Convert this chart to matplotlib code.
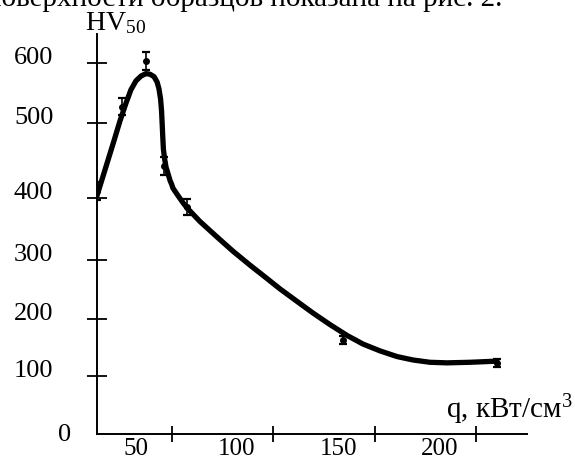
import numpy as np
import matplotlib
matplotlib.use("Agg")
import matplotlib.pyplot as plt
from matplotlib.transforms import ScaledTranslation

# ---- data ----
q_points = [13.3, 25.6, 37.4, 46.3, 57.6, 134.5, 210.3]
hv_points = [409, 527, 603, 443, 385, 163, 123]
hv_err = [12, 14, 15, 12, 13, 7, 7]

curve_q = [13.3, 17.2, 21.2, 24.6, 27.6, 30.0, 32.5, 35.0, 37.4, 39.4,
           41.4, 42.9, 43.8, 44.6, 45.1, 45.4, 45.7, 46.0, 46.6, 47.3,
           48.3, 49.3, 50.1, 50.7, 53.2, 55.7, 57.6, 64.0, 72.4, 80.3,
           88.7, 96.1, 103.4, 113.3, 119.7, 128.1, 136.5, 144.3, 152.7, 161.1,
           169.0, 177.3, 185.7, 197.0, 210.3]
curve_hv = [403, 437, 472, 503, 533, 555, 570, 578, 582, 581,
            577, 568, 557, 540, 520, 499, 481, 465, 452, 441,
            432, 423, 418, 413, 403, 392, 384, 362, 337, 314,
            291, 271, 251, 226, 210, 190, 171, 156, 144, 134,
            128, 124, 123, 124, 126]

x_ticks = [50, 100, 150, 200]
x_ticklabels = ["50", "100", "150", "200"]
y_ticks = [100, 200, 300, 400, 500, 600]
y_ticklabels = ["100", "200", "300", "400", "500", "600"]

# hand-drawn (slightly uneven) vertical axis calibration
axis_vals = [0, 100, 200, 300, 400, 500, 600, 700]
axis_pos = [0, 58, 115, 174, 236, 311, 371, 431]

plt.rcParams["font.family"] = ["Liberation Serif", "DejaVu Serif"]
plt.rcParams["mathtext.fontset"] = "custom"
plt.rcParams["mathtext.rm"] = "Liberation Serif"
plt.rcParams["mathtext.it"] = "Liberation Serif:italic"

fig = plt.figure(figsize=(5.75, 4.6), dpi=100)
ax = fig.add_axes([97 / 575, 25 / 460, 430 / 575, 400 / 460])

ax.set_yscale("function",
              functions=(lambda v: np.interp(v, axis_vals, axis_pos),
                         lambda p: np.interp(p, axis_pos, axis_vals)))

ax.plot(curve_q, curve_hv, color="black", lw=3.8,
        solid_joinstyle="round", solid_capstyle="round", zorder=3)
ax.errorbar(q_points, hv_points, yerr=hv_err, fmt="o", color="black",
            ms=4, elinewidth=1.2, capsize=3, capthick=1.6, zorder=4)

ax.set_xlim(13.3, 225.1)
ax.set_ylim(0, 648)

for s in ["top", "right"]:
    ax.spines[s].set_visible(False)
for s in ["left", "bottom"]:
    ax.spines[s].set_linewidth(1.4)

ax.set_xticks(x_ticks)
ax.set_xticklabels(x_ticklabels, fontsize=18)
ax.set_yticks(y_ticks)
ax.set_yticklabels(y_ticklabels, fontsize=19)
ax.yaxis.set_minor_locator(matplotlib.ticker.NullLocator())
ax.xaxis.set_minor_locator(matplotlib.ticker.NullLocator())

ax.tick_params(axis="y", direction="inout", length=15, width=1.3, pad=24)
ax.tick_params(axis="x", direction="inout", length=11, width=1.3, pad=-3.5)

for lab in ax.get_yticklabels():
    lab.set_transform(lab.get_transform() +
                      ScaledTranslation(0, 0.08, fig.dpi_scale_trans))
for lab in ax.get_xticklabels():
    lab.set_transform(lab.get_transform() +
                      ScaledTranslation(-0.36, 0, fig.dpi_scale_trans))

fig.text(65 / 575, 1 - 435 / 460, "0", ha="center", va="center", fontsize=19)
fig.text(85 / 575, 1 - 30 / 460, r"HV$_{\mathrm{50}}$", ha="left",
         va="baseline", fontsize=20)
fig.text(573 / 575, 1 - 418 / 460, r"q, кВт/см$^{\mathrm{3}}$", ha="right",
         va="baseline", fontsize=21)
fig.text(502 / 575, 1 - 6 / 460, "поверхности образцов показана на рис. 2.",
         ha="right", va="baseline", fontsize=21)

fig.savefig("out.png", dpi=100)
